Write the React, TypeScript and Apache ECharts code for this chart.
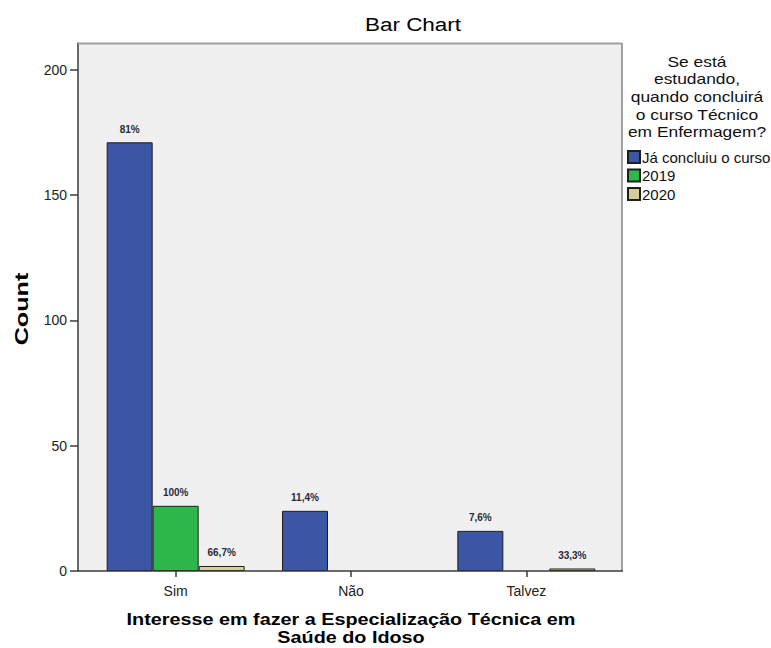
import React, { useEffect, useRef } from "react";
import * as echarts from "echarts";

const categories = ["Sim", "Não", "Talvez"];
const seriesNames = ["Já concluiu o curso", "2019", "2020"];
const valuesConcluiu = [171, 24, 16];
const values2019 = [26, null, null];
const values2020 = [2, null, 1];
const labelsConcluiu = ["81%", "11,4%", "7,6%"];
const labels2019 = ["100%", "", ""];
const labels2020 = ["66,7%", "", "33,3%"];
const yTicks = [0, 50, 100, 150, 200];
const legendTitle = ["Se está", "estudando,", "quando concluirá", "o curso Técnico", "em Enfermagem?"];

const FONT = "'Liberation Sans', Arial, sans-serif";
const colors = ["#3c56a6", "#2eb84b", "#d4cf98"];

export default function App() {
  const ref = useRef<HTMLDivElement>(null);
  useEffect(() => {
    if (!ref.current) return;
    const chart = echarts.init(ref.current, null, { renderer: "svg" });
    const mkSeries = (name: string, data: (number | null)[], labels: string[], color: string) => ({
      type: "bar",
      name,
      data,
      barWidth: 46,
      barGap: "0%",
      itemStyle: { color, borderColor: "#1e1e1e", borderWidth: 1 },
      label: {
        show: true,
        position: "top",
        distance: 8,
        fontSize: 10,
        fontWeight: "bold",
        fontFamily: FONT,
        color: "#2a2a3a",
        formatter: (p: any) => labels[p.dataIndex] || "",
      },
    });
    const graphics: any[] = [
      { type: "rect", z: -10, shape: { x: 78, y: 43, width: 544, height: 528 }, style: { fill: "#f0f0f0" } },
      { type: "line", z: 50, shape: { x1: 78, y1: 43.5, x2: 622, y2: 43.5 }, style: { stroke: "#a0a0a0", lineWidth: 2 } },
      { type: "line", z: 50, shape: { x1: 622, y1: 43, x2: 622, y2: 571 }, style: { stroke: "#a0a0a0", lineWidth: 2 } },
      { type: "line", z: 50, shape: { x1: 78, y1: 571, x2: 623, y2: 571 }, style: { stroke: "#3a3a3a", lineWidth: 1.5 } },
      {
        type: "text", x: 413, y: 25, scaleX: 1.25,
        style: { text: "Bar Chart", fontSize: 18, fontFamily: FONT, fill: "#000", align: "center", verticalAlign: "middle" },
      },
      {
        type: "text", x: 22, y: 309, rotation: Math.PI / 2, scaleX: 1.4,
        style: { text: "Count", fontSize: 18, fontWeight: "bold", fontFamily: FONT, fill: "#000", align: "center", verticalAlign: "middle" },
      },
      {
        type: "text", x: 351, y: 620, scaleX: 1.2,
        style: { text: "Interesse em fazer a Especialização Técnica em", fontSize: 16.5, fontWeight: "bold", fontFamily: FONT, fill: "#000", align: "center", verticalAlign: "middle" },
      },
      {
        type: "text", x: 351, y: 638, scaleX: 1.2,
        style: { text: "Saúde do Idoso", fontSize: 16.5, fontWeight: "bold", fontFamily: FONT, fill: "#000", align: "center", verticalAlign: "middle" },
      },
    ];
    legendTitle.forEach((t, i) => {
      graphics.push({
        type: "text", x: 697, y: 61 + i * 17.7, scaleX: 1.16,
        style: { text: t, fontSize: 15, fontFamily: FONT, fill: "#111", align: "center", verticalAlign: "middle" },
      });
    });
    chart.setOption({
      animation: false,
      grid: { left: 88, right: 157, top: 43, bottom: 77, containLabel: false },
      legend: {
        orient: "vertical",
        left: 627,
        top: 149.5,
        padding: 0,
        itemWidth: 12,
        itemHeight: 12,
        itemGap: 3.5,
        icon: "rect",
        textStyle: { fontSize: 15, fontFamily: FONT, color: "#111", padding: [0, 0, 0, -3] },
        data: seriesNames,
      },
      xAxis: {
        type: "category",
        data: categories,
        axisLine: { show: false },
        axisTick: { show: true, alignWithLabel: true, length: 6, lineStyle: { color: "#3a3a3a", width: 1.5 } },
        axisLabel: { fontSize: 14, fontFamily: FONT, color: "#222", margin: 13 },
      },
      yAxis: {
        type: "value",
        min: 0,
        max: 210.6,
        offset: 10,
        splitLine: { show: false },
        axisLine: { show: true, lineStyle: { color: "#3a3a3a", width: 1.5 } },
        axisTick: { show: true, length: 8, customValues: yTicks, lineStyle: { color: "#3a3a3a", width: 1.5 } },
        axisLabel: { fontSize: 14, fontFamily: FONT, color: "#222", margin: 11, customValues: yTicks },
      },
      graphic: graphics,
      series: [
        mkSeries(seriesNames[0], valuesConcluiu, labelsConcluiu, colors[0]),
        mkSeries(seriesNames[1], values2019, labels2019, colors[1]),
        mkSeries(seriesNames[2], values2020, labels2020, colors[2]),
      ],
    });
    return () => chart.dispose();
  }, []);
  return (
    <div
      ref={ref}
      style={{ position: "fixed", left: 0, top: 0, width: 771, height: 648, background: "#fff" }}
    />
  );
}
